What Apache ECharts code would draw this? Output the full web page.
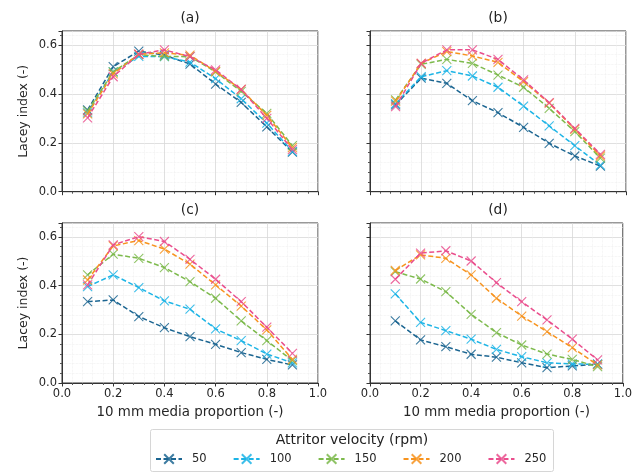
<!DOCTYPE html>
<html><head><meta charset="utf-8">
<script src="https://cdn.jsdelivr.net/npm/echarts@6/dist/echarts.min.js"></script>
<style>html,body{margin:0;padding:0;background:#fff}#c{width:635px;height:475px}</style>
</head><body><div id="c"></div>
<script>
// ---- data ----
const xs = [0.1, 0.2, 0.3, 0.4, 0.5, 0.6, 0.7, 0.8, 0.9];
const speeds = ['50', '100', '150', '200', '250'];
const panelTitles = ['(a)', '(b)', '(c)', '(d)'];
const xTickLabels = ['0.0', '0.2', '0.4', '0.6', '0.8', '1.0'];
const yTickLabels = ['0.0', '0.2', '0.4', '0.6'];

const a50  = [0.334, 0.511, 0.575, 0.558, 0.522, 0.440, 0.365, 0.265, 0.162];
const a100 = [0.322, 0.490, 0.553, 0.552, 0.530, 0.462, 0.380, 0.280, 0.165];
const a150 = [0.330, 0.490, 0.560, 0.553, 0.552, 0.490, 0.410, 0.320, 0.188];
const a200 = [0.318, 0.482, 0.562, 0.568, 0.558, 0.492, 0.418, 0.312, 0.180];
const a250 = [0.302, 0.470, 0.562, 0.580, 0.552, 0.498, 0.418, 0.300, 0.172];

const b50  = [0.355, 0.464, 0.443, 0.372, 0.323, 0.263, 0.198, 0.146, 0.105];
const b100 = [0.360, 0.470, 0.495, 0.473, 0.427, 0.350, 0.269, 0.188, 0.109];
const b150 = [0.375, 0.521, 0.541, 0.525, 0.477, 0.427, 0.341, 0.246, 0.137];
const b200 = [0.370, 0.525, 0.573, 0.555, 0.529, 0.450, 0.362, 0.255, 0.146];
const b250 = [0.348, 0.525, 0.580, 0.580, 0.541, 0.457, 0.364, 0.259, 0.153];

const c50  = [0.334, 0.341, 0.273, 0.227, 0.190, 0.159, 0.125, 0.097, 0.074];
const c100 = [0.396, 0.444, 0.392, 0.337, 0.303, 0.222, 0.174, 0.119, 0.083];
const c150 = [0.444, 0.529, 0.512, 0.474, 0.416, 0.348, 0.255, 0.174, 0.092];
const c200 = [0.423, 0.563, 0.585, 0.550, 0.488, 0.403, 0.316, 0.218, 0.097];
const c250 = [0.403, 0.567, 0.601, 0.581, 0.508, 0.426, 0.334, 0.229, 0.122];

const d50  = [0.255, 0.177, 0.149, 0.118, 0.106, 0.083, 0.063, 0.070, 0.077];
const d100 = [0.366, 0.249, 0.215, 0.180, 0.138, 0.108, 0.083, 0.078, 0.077];
const d150 = [0.457, 0.427, 0.375, 0.282, 0.207, 0.156, 0.119, 0.097, 0.067];
const d200 = [0.462, 0.526, 0.512, 0.444, 0.348, 0.275, 0.211, 0.145, 0.074];
const d250 = [0.426, 0.533, 0.543, 0.501, 0.412, 0.334, 0.259, 0.180, 0.095];

const panels = [
  [a50, a100, a150, a200, a250],
  [b50, b100, b150, b200, b250],
  [c50, c100, c150, c200, c250],
  [d50, d100, d150, d200, d250]
];

// ---- style ----
const colors = ['#1b6591', '#1cb4e6', '#7dba4c', '#f7931e', '#ea4e8d'];
const FONT = 'DejaVu Sans';
const grids = [
  { left: 62, top: 31, width: 256, height: 160.7 },
  { left: 370, top: 31, width: 256, height: 160.7 },
  { left: 62, top: 223, width: 256, height: 160 },
  { left: 370, top: 223, width: 256, height: 160 }
];
const xMarker = 'path://M0,0L10,10M0,10L10,0';

const chart = echarts.init(document.getElementById('c'), null, { renderer: 'canvas' });

const isMajor = (v) => Math.abs(v / 0.2 - Math.round(v / 0.2)) < 1e-6;

const xAxes = grids.map((g, i) => ({
  type: 'value', gridIndex: i, min: 0, max: 1, interval: 0.2,
  axisLine: { show: true, lineStyle: { color: '#333', width: 1 } },
  axisTick: { show: true, length: 3.5, lineStyle: { color: '#333' } },
  minorTick: { show: true, splitNumber: 5, length: 2, lineStyle: { color: '#555' } },
  splitLine: { show: true, lineStyle: { color: '#d8d8d8', width: 0.8 } },
  minorSplitLine: { show: true, lineStyle: { color: '#ececec', width: 0.7, type: 'dotted' } },
  axisLabel: {
    show: i >= 2, fontFamily: FONT, fontSize: 11.5, color: '#262626', margin: 5,
    formatter: (v) => xTickLabels[Math.round(v / 0.2)] || ''
  },
  name: i >= 2 ? '10 mm media proportion (-)' : '',
  nameLocation: 'middle', nameGap: 23,
  nameTextStyle: { fontFamily: FONT, fontSize: 13.4, color: '#262626' }
}));

const yAxes = grids.map((g, i) => ({
  type: 'value', gridIndex: i, min: 0, max: 0.657, interval: 0.2,
  axisLine: { show: true, lineStyle: { color: '#333', width: 1 } },
  axisTick: { show: true, length: 3.5, lineStyle: { color: '#333' } },
  minorTick: { show: true, splitNumber: 5, length: 2, lineStyle: { color: '#555' } },
  splitLine: { show: true, lineStyle: { color: '#d8d8d8', width: 0.8 } },
  minorSplitLine: { show: true, lineStyle: { color: '#ececec', width: 0.7, type: 'dotted' } },
  axisLabel: {
    show: i % 2 === 0, fontFamily: FONT, fontSize: 11.5, color: '#262626', margin: 5,
    showMaxLabel: false,
    formatter: (v) => isMajor(v) ? (yTickLabels[Math.round(v / 0.2)] || '') : ''
  },
  name: i % 2 === 0 ? 'Lacey index (-)' : '',
  nameLocation: 'middle', nameGap: 32, nameRotate: 90,
  nameTextStyle: { fontFamily: FONT, fontSize: 12.5, color: '#262626' }
}));

const series = [];
panels.forEach((vals, p) => {
  vals.forEach((arr, s) => {
    series.push({
      type: 'line', name: speeds[s], xAxisIndex: p, yAxisIndex: p,
      data: xs.map((x, k) => [x, arr[k]]),
      symbol: xMarker, symbolSize: 9,
      lineStyle: { color: colors[s], width: 1.5, type: [5, 2.5] },
      itemStyle: { color: colors[s], borderColor: colors[s], borderWidth: 1.1, opacity: 0.85 },
      emphasis: { disabled: true },
      z: 3 + s
    });
  });
});

const graphic = [];
grids.forEach((g, i) => {
  graphic.push({
    type: 'text', x: g.left + g.width / 2, y: g.top - 13,
    style: { text: panelTitles[i], fill: '#222', font: '13.8px "DejaVu Sans"', align: 'center', verticalAlign: 'middle', textAlign: 'center', textVerticalAlign: 'middle' }
  });
});
// legend frame & title
graphic.push({
  type: 'rect', shape: { x: 150.5, y: 429.5, width: 403, height: 42, r: 2 },
  style: { fill: 'rgba(255,255,255,0.8)', stroke: '#d6d6d6', lineWidth: 1 }, z: -1
});
graphic.push({
  type: 'text', x: 352, y: 440,
  style: { text: 'Attritor velocity (rpm)', fill: '#222', font: '14px "DejaVu Sans"', align: 'center', verticalAlign: 'middle', textAlign: 'center', textVerticalAlign: 'middle' }
});

chart.setOption({
  animation: false,
  backgroundColor: '#fff',
  grid: grids.map(g => Object.assign({ show: true, borderColor: '#333', borderWidth: 1, backgroundColor: 'transparent' }, g)),
  xAxis: xAxes,
  yAxis: yAxes,
  series: series,
  graphic: graphic,
  legend: {
    data: speeds, left: 155, top: 453, orient: 'horizontal', padding: 0,
    itemWidth: 26, itemHeight: 12, itemGap: 26,
    textStyle: { fontFamily: FONT, fontSize: 11.5, color: '#262626', padding: [0, 0, 0, 5] },
    inactiveColor: '#ccc'
  }
});
</script>
</body></html>
